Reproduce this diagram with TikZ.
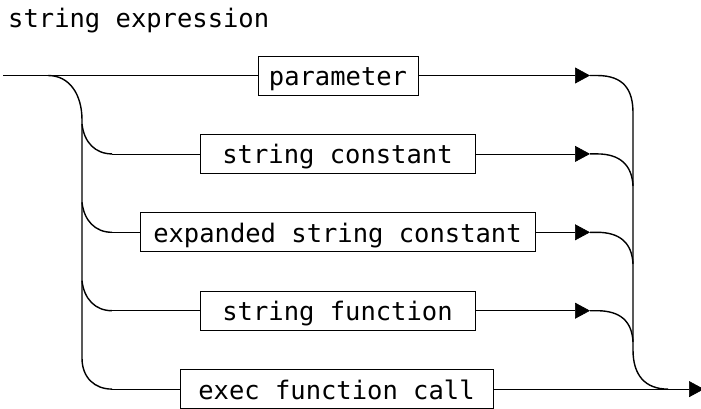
\documentclass[tikz,border=0pt]{standalone}
\usepackage{fontspec}
\setmonofont{DejaVu Sans Mono}
\usetikzlibrary{arrows.meta}
\begin{document}
\begin{tikzpicture}[x=1pt,y=-1pt,
  every node/.style={font=\ttfamily\fontsize{25.5}{30}\selectfont},
  box/.style={draw, line width=0.7pt, minimum height=39pt, inner sep=0pt, text height=25pt, text depth=5pt},
  ln/.style={line width=0.7pt},
  cv/.style={line width=1.4pt},
  tipto/.style={-{Triangle[length=15pt,width=16pt]}}
]
\useasboundingbox (0,0) rectangle (701,408);

\node[anchor=base west, inner sep=0pt] (title) at (8,27) {string expression};

% boxes
\node[box, minimum width=160pt] (b1) at (338,75.5) {parameter};
\node[box, minimum width=275pt] (b2) at (337.5,153.9) {string constant};
\node[box, minimum width=395pt] (b3) at (337.5,232.3) {expanded string constant};
\node[box, minimum width=275pt] (b4) at (337.5,310.7) {string function};
\node[box, minimum width=313pt] (b5) at (336.5,389.1) {exec function call};

% left coordinates
\coordinate (s) at (3,75.5);
\coordinate (l0) at (48,75.5);
\coordinate (l2) at (112,153.9);
\coordinate (l3) at (112,232.3);
\coordinate (l4) at (112,310.7);
\coordinate (l5) at (112,389.1);
\coordinate (v2) at (82,124);
\coordinate (v3) at (82,202.3);
\coordinate (v4) at (82,280.7);

% right coordinates
\coordinate (a1) at (590,75.5);
\coordinate (a2) at (590,153.9);
\coordinate (a3) at (590,232.3);
\coordinate (a4) at (590,310.7);
\coordinate (r1) at (633,113);
\coordinate (r2) at (633,186);
\coordinate (r3) at (633,264);
\coordinate (r4) at (633,342);
\coordinate (r5) at (668,389.1);
\coordinate (fin) at (704,389.1);

% left side
\draw[ln] (s) -- (b1.west);
\draw[cv] (l0) .. controls (70,75.5) and (82,95) .. (82,120) -- (82,358)
  .. controls (82,378) and (95,389.1) .. (l5);
\draw[cv] (v2) .. controls (84,142) and (95,153.9) .. (l2);
\draw[cv] (v3) .. controls (84,220.3) and (95,232.3) .. (l3);
\draw[cv] (v4) .. controls (84,298.7) and (95,310.7) .. (l4);
\draw[ln] (l2) -- (b2.west);
\draw[ln] (l3) -- (b3.west);
\draw[ln] (l4) -- (b4.west);
\draw[ln] (l5) -- (b5.west);

% right side
\draw[ln, tipto] (b1.east) -- (a1);
\draw[ln, tipto] (b2.east) -- (a2);
\draw[ln, tipto] (b3.east) -- (a3);
\draw[ln, tipto] (b4.east) -- (a4);
\draw[ln, tipto] (b5.east) -- (fin);

\draw[cv] (a1) -- ++(7,0) .. controls (624,75.5) and (633,90) .. (r1) -- (633,350)
  .. controls (633,375) and (645,389.1) .. (r5);
\draw[cv] (a2) -- ++(7,0) .. controls (620,153.9) and (632,165) .. (r2);
\draw[cv] (a3) -- ++(7,0) .. controls (620,232.3) and (632,243) .. (r3);
\draw[cv] (a4) -- ++(7,0) .. controls (620,310.7) and (632,321) .. (r4);
\end{tikzpicture}
\end{document}
